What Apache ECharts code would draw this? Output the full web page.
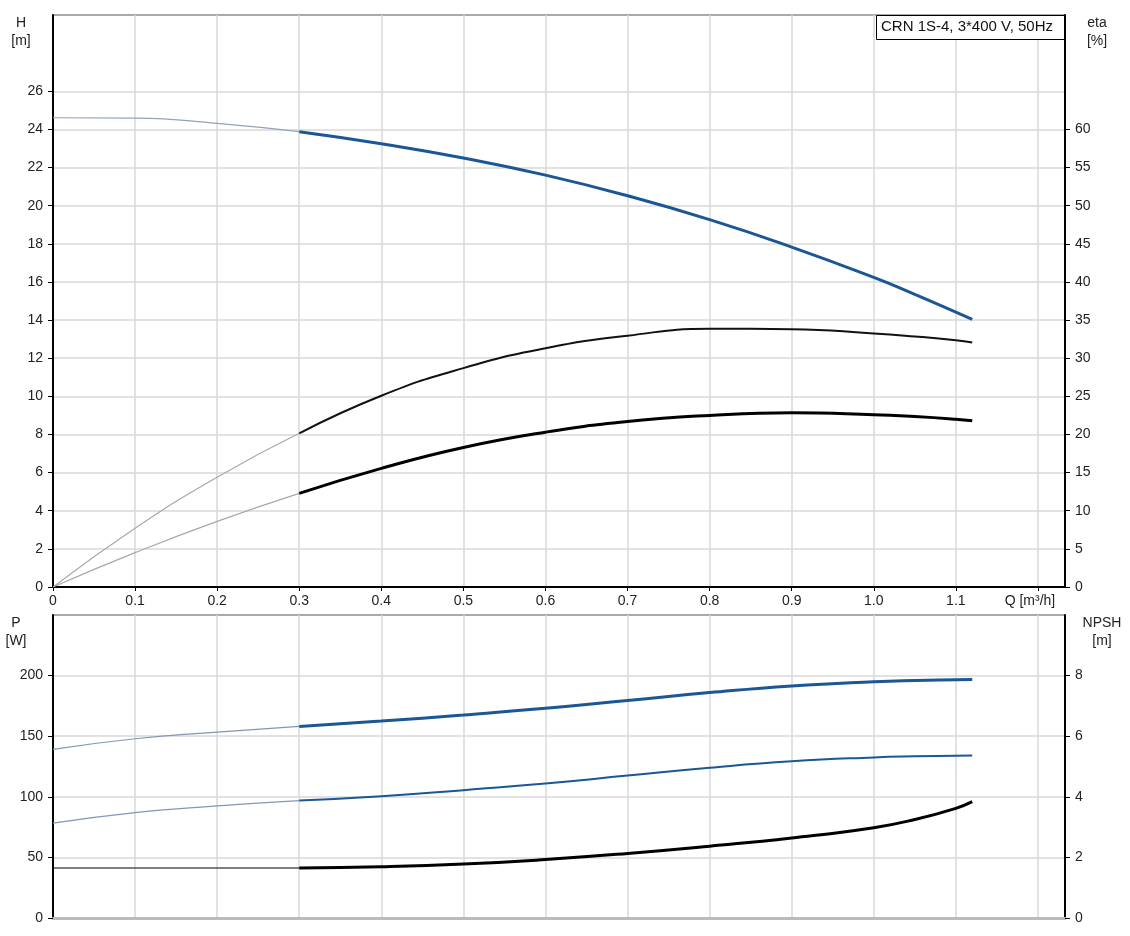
<!DOCTYPE html>
<html>
<head>
<meta charset="utf-8">
<script src="https://cdn.jsdelivr.net/npm/echarts@6/dist/echarts.min.js"></script>
<style>
html,body{margin:0;padding:0;background:#fff;}
#c{width:1130px;height:936px;}
</style>
</head>
<body>
<div id="c"></div>
<script>
// ---- data ----
const Q_EXT = [0, 0.1, 0.2, 0.3];
const Q_MAIN = [0.3, 0.4, 0.5, 0.6, 0.7, 0.8, 0.9, 1.0, 1.05, 1.1, 1.12];
const H_EXT = [24.61, 24.59, 24.32, 23.88];
const H_MAIN = [23.88, 23.25, 22.5, 21.6, 20.52, 19.27, 17.83, 16.24, 15.35, 14.42, 14.04];
const ETA_EXT = [0, 7.7, 14.4, 20.15];
const ETA_MAIN = [20.15, 25.08, 28.7, 31.3, 32.95, 33.86, 33.8, 33.25, 32.85, 32.35, 32.05];
const ETA2_EXT = [0, 4.5, 8.6, 12.28];
const ETA2_MAIN = [12.28, 15.56, 18.3, 20.3, 21.7, 22.5, 22.85, 22.6, 22.35, 22.0, 21.8];
const P1_EXT = [139.1, 147.9, 153.4, 158.1];
const P1_MAIN = [158.1, 162.5, 167.5, 173, 179.5, 186, 191.5, 195, 196, 196.5, 196.7];
const P2_EXT = [78.3, 87, 92.5, 96.9];
const P2_MAIN = [96.9, 100.5, 105.5, 111, 117.5, 124, 129.3, 132.5, 133.4, 133.9, 134];
const NPSH_EXT_Q = [0, 0.3];
const NPSH_EXT = [1.65, 1.65];
const NPSH_MAIN = [1.65, 1.69, 1.78, 1.93, 2.13, 2.37, 2.64, 2.98, 3.25, 3.62, 3.84];

const H_TICKS = [0, 2, 4, 6, 8, 10, 12, 14, 16, 18, 20, 22, 24, 26];
const ETA_TICKS = [0, 5, 10, 15, 20, 25, 30, 35, 40, 45, 50, 55, 60];
const P_TICKS = [0, 50, 100, 150, 200];
const NPSH_TICKS = [0, 2, 4, 6, 8];
const Q_LABELS = ['0', '0.1', '0.2', '0.3', '0.4', '0.5', '0.6', '0.7', '0.8', '0.9', '1.0', '1.1', 'Q [m³/h]'];
const TITLE = 'CRN 1S-4, 3*400 V, 50Hz';

// ---- helpers ----
const pair = (xs, ys) => xs.map((x, i) => [x, ys[i]]);
const BLUE = '#1b5794';
const TXT = '#222';
const FONT = 'Liberation Sans, Arial, sans-serif';

function line(name, xs, ys, xi, yi, color, width, extra) {
  return Object.assign({
    type: 'line', name, xAxisIndex: xi, yAxisIndex: yi,
    data: pair(xs, ys), showSymbol: false, symbol: 'none',
    smooth: 0.5, animation: false,
    lineStyle: { color, width }, z: 3
  }, extra || {});
}

const p1Data = pair(Q_MAIN, P1_MAIN);
p1Data[p1Data.length - 1] = { value: p1Data[p1Data.length - 1], label: { show: true, formatter: 'P1', position: 'top', offset: [-13, 0], color: '#2c5c98', fontSize: 14, fontFamily: FONT } };
const p2Data = pair(Q_MAIN, P2_MAIN);
p2Data[p2Data.length - 1] = { value: p2Data[p2Data.length - 1], label: { show: true, formatter: 'P2', position: 'bottom', offset: [-13, 0], color: '#2c5c98', fontSize: 14, fontFamily: FONT } };

const qFormatter = v => {
  const k = Math.round(v * 10);
  if (Math.abs(v * 10 - k) > 1e-6) return '';
  return k >= 12 ? '{q|' + Q_LABELS[12] + '}' : Q_LABELS[k];
};

const splitX = { show: true, lineStyle: { color: '#d8d8d8', width: 1.5 } };
const splitY = { show: true, lineStyle: { color: '#e2e2e2', width: 2 } };
const blackAxis = { show: true, lineStyle: { color: '#000', width: 2 } };
const tick = vals => ({ show: true, length: 5, customValues: vals, lineStyle: { color: '#000', width: 1 } });
const lbl = (vals, margin) => ({ customValues: vals, color: TXT, fontSize: 14, fontFamily: FONT, margin });

const option = {
  animation: false,
  backgroundColor: '#fff',
  textStyle: { fontFamily: FONT },
  grid: [
    { left: 53, right: 65, top: 15, height: 572, show: true, borderColor: '#555', borderWidth: 1, backgroundColor: 'transparent' },
    { left: 53, right: 65, top: 615, height: 303, show: true, borderColor: '#555', borderWidth: 1, backgroundColor: 'transparent' }
  ],
  xAxis: [
    { type: 'value', gridIndex: 0, min: 0, max: 1.233, interval: 0.1,
      axisLine: blackAxis, axisTick: { show: true, length: 4, lineStyle: { color: '#000' } },
      axisLabel: { color: TXT, fontSize: 14, fontFamily: FONT, margin: 7, formatter: qFormatter, showMaxLabel: false,
        rich: { q: { color: TXT, fontSize: 14, fontFamily: FONT, padding: [0, 16, 0, 0] } } },
      splitLine: splitX },
    { type: 'value', gridIndex: 1, min: 0, max: 1.233, interval: 0.1,
      axisLine: { show: true, lineStyle: { color: '#bbb', width: 3 } }, axisTick: { show: false },
      axisLabel: { show: false }, splitLine: splitX }
  ],
  yAxis: [
    { type: 'value', gridIndex: 0, position: 'left', min: 0, max: 30, interval: 2,
      axisLine: blackAxis, axisTick: tick(H_TICKS), axisLabel: lbl(H_TICKS, 10), splitLine: splitY },
    { type: 'value', gridIndex: 0, position: 'right', min: 0, max: 75, interval: 5,
      axisLine: blackAxis, axisTick: tick(ETA_TICKS), axisLabel: lbl(ETA_TICKS, 10), splitLine: { show: false } },
    { type: 'value', gridIndex: 1, position: 'left', min: 0, max: 250, interval: 50,
      axisLine: blackAxis, axisTick: tick(P_TICKS), axisLabel: lbl(P_TICKS, 10), splitLine: splitY },
    { type: 'value', gridIndex: 1, position: 'right', min: 0, max: 10, interval: 2,
      axisLine: blackAxis, axisTick: tick(NPSH_TICKS), axisLabel: lbl(NPSH_TICKS, 10), splitLine: { show: false } }
  ],
  series: [
    line('H ext', Q_EXT, H_EXT, 0, 0, '#93a3bd', 1.2),
    line('H', Q_MAIN, H_MAIN, 0, 0, BLUE, 3),
    line('eta ext', Q_EXT, ETA_EXT, 0, 1, '#a8a8a8', 1.2),
    line('eta', Q_MAIN, ETA_MAIN, 0, 1, '#111', 2),
    line('eta2 ext', Q_EXT, ETA2_EXT, 0, 1, '#a8a8a8', 1.2),
    line('eta2', Q_MAIN, ETA2_MAIN, 0, 1, '#000', 3),
    line('P1 ext', Q_EXT, P1_EXT, 1, 2, '#8396b4', 1.2),
    Object.assign(line('P1', Q_MAIN, P1_MAIN, 1, 2, BLUE, 3), { data: p1Data }),
    line('P2 ext', Q_EXT, P2_EXT, 1, 2, '#8396b4', 1.2),
    Object.assign(line('P2', Q_MAIN, P2_MAIN, 1, 2, BLUE, 2), { data: p2Data }),
    line('NPSH ext', NPSH_EXT_Q, NPSH_EXT, 1, 3, '#000', 1, { smooth: false }),
    line('NPSH', Q_MAIN, NPSH_MAIN, 1, 3, '#000', 3)
  ],
  graphic: [
    { type: 'text', style: { text: 'H\n[m]', x: 21, y: 14, textAlign: 'center', fill: TXT, font: '14px ' + FONT, lineHeight: 18 } },
    { type: 'text', style: { text: 'eta\n[%]', x: 1097, y: 14, textAlign: 'center', fill: TXT, font: '14px ' + FONT, lineHeight: 18 } },
    { type: 'text', style: { text: 'P\n[W]', x: 16, y: 614, textAlign: 'center', fill: TXT, font: '14px ' + FONT, lineHeight: 18 } },
    { type: 'text', style: { text: 'NPSH\n[m]', x: 1102, y: 614, textAlign: 'center', fill: TXT, font: '14px ' + FONT, lineHeight: 18 } },
    { type: 'rect', shape: { x: 876.5, y: 15.5, width: 188, height: 24 }, style: { fill: '#fff', stroke: '#000', lineWidth: 1 }, z: 10 },
    { type: 'text', style: { text: TITLE, x: 881, y: 19, fill: '#111', font: '15px ' + FONT }, z: 11 }
  ]
};

const chart = echarts.init(document.getElementById('c'), null, { renderer: 'canvas' });
chart.setOption(option);
</script>
</body>
</html>
